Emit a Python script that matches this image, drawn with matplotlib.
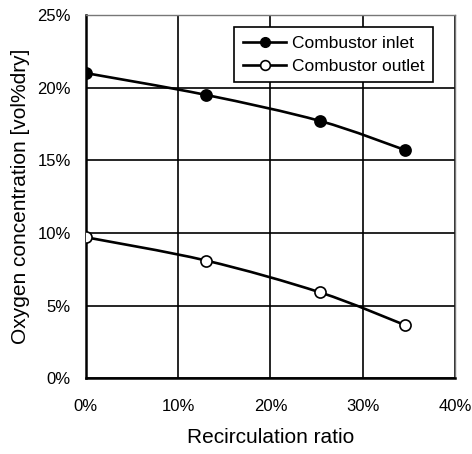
import matplotlib
matplotlib.use("Agg")
import matplotlib.pyplot as plt
from matplotlib.ticker import FuncFormatter
from matplotlib.path import Path
from matplotlib.patches import PathPatch
from matplotlib.lines import Line2D

plt.rcParams['font.family'] = ['Liberation Sans', 'DejaVu Sans']

# Recirculation ratio (%) and O2 concentration (vol% dry)
recirc = [0.0, 13.0, 25.4, 34.6]
inlet_o2 = [21.0, 19.5, 17.7, 15.7]
outlet_o2 = [9.7, 8.1, 5.9, 3.65]
x_ticks = [0, 10, 20, 30, 40]
y_ticks = [0, 5, 10, 15, 20, 25]


def smooth_path(xs, ys):
    """Catmull-Rom style smoothed line through the points as cubic Beziers."""
    pts = list(zip(xs, ys))
    n = len(pts)
    verts = [pts[0]]
    codes = [Path.MOVETO]
    for i in range(n - 1):
        p0 = pts[i - 1] if i > 0 else pts[i]
        p1 = pts[i]
        p2 = pts[i + 1]
        p3 = pts[i + 2] if i + 2 < n else pts[i + 1]
        c1 = (p1[0] + (p2[0] - p0[0]) / 6, p1[1] + (p2[1] - p0[1]) / 6)
        c2 = (p2[0] - (p3[0] - p1[0]) / 6, p2[1] - (p3[1] - p1[1]) / 6)
        verts += [c1, c2, p2]
        codes += [Path.CURVE4] * 3
    return Path(verts, codes)


fig = plt.figure(figsize=(4.72, 4.54), dpi=100)
ax = fig.add_axes([0.182, 0.167, 0.782, 0.800])

for ys, face in [(inlet_o2, 'black'), (outlet_o2, 'white')]:
    ax.add_patch(PathPatch(smooth_path(recirc, ys), fc='none', ec='black',
                           lw=1.9, zorder=3))
    ax.plot(recirc, ys, ls='none', marker='o', ms=8, mfc=face, mec='black',
            mew=1.2, zorder=4)

ax.set_xlim(0, 40)
ax.set_ylim(0, 25)
ax.set_xticks(x_ticks)
ax.set_yticks(y_ticks)
pct = FuncFormatter(lambda v, p: f"{v:.0f}%")
ax.xaxis.set_major_formatter(pct)
ax.yaxis.set_major_formatter(pct)
ax.tick_params(length=0, labelsize=12)
ax.tick_params(axis='x', pad=15)
ax.tick_params(axis='y', pad=11)
ax.grid(True, color='black', lw=1.2)
ax.set_axisbelow(True)

for s in ['left', 'bottom']:
    ax.spines[s].set_linewidth(1.8)
    ax.spines[s].set_color('black')
for s in ['top', 'right']:
    ax.spines[s].set_linewidth(1.0)
    ax.spines[s].set_color('#777777')

ax.set_xlabel('Recirculation ratio', fontsize=15, labelpad=10)
ax.set_ylabel('Oxygen concentration [vol%dry]', fontsize=15, labelpad=5)

handles = [
    Line2D([], [], color='black', lw=1.9, marker='o', ms=7, mfc='black', mec='black'),
    Line2D([], [], color='black', lw=1.9, marker='o', ms=7, mfc='white', mec='black', mew=1.2),
]
leg = ax.legend(handles, ['Combustor inlet', 'Combustor outlet'],
                loc='upper right', bbox_to_anchor=(0.94, 0.967), fontsize=12.5,
                frameon=True, fancybox=False, edgecolor='black', framealpha=1,
                handlelength=2.5, handletextpad=0.3, borderpad=0.5,
                labelspacing=0.45, borderaxespad=0)
leg.get_frame().set_linewidth(1.2)

fig.savefig('out.png', dpi=100)
